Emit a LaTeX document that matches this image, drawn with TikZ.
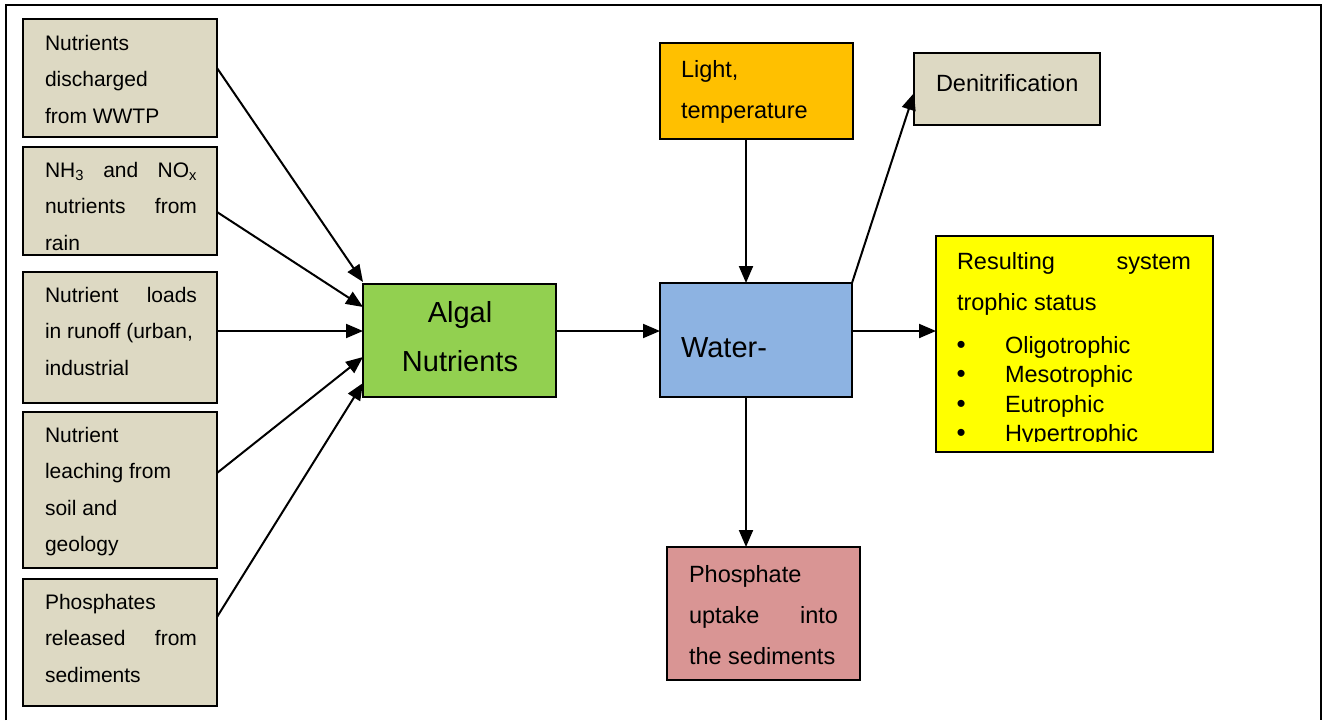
\documentclass[tikz,border=0pt]{standalone}
\usepackage{fontspec}
\setmainfont{Liberation Sans}
\usetikzlibrary{arrows.meta,calc}

\definecolor{sourcetan}{HTML}{DDD9C3}
\definecolor{algalgreen}{HTML}{92D050}
\definecolor{waterblue}{HTML}{8DB3E2}
\definecolor{lightorange}{HTML}{FFC000}
\definecolor{statusyellow}{HTML}{FFFF00}
\definecolor{sedimentpink}{HTML}{D99594}

% font sizes (1pt = 1 px of the final image)
\newcommand{\sizeS}{\fontsize{21}{36.6}\selectfont}
\newcommand{\sizeM}{\fontsize{23.5}{41}\selectfont}
\newcommand{\sizeL}{\fontsize{29}{49}\selectfont}
\newcommand{\lines}[1]{\begin{tabular}[t]{@{}l@{}}#1\end{tabular}}
\newcommand{\clines}[1]{\begin{tabular}[t]{@{}c@{}}#1\end{tabular}}
\newcommand{\bulletitem}{\makebox[48pt][l]{\hspace{-0.5pt}\fontsize{26}{29.5}\selectfont•}}

\tikzset{
  box/.style={draw=black, line width=1.5pt, inner sep=0pt, outer sep=0pt, anchor=north west},
  txt/.style={anchor=base west, inner sep=0pt, outer sep=0pt},
  link/.style={line width=2pt, -{Triangle[length=17pt,width=14pt]}},
}

\begin{document}
\begin{tikzpicture}[x=1pt,y=-1pt]
\useasboundingbox (0,0) rectangle (1324,720);

% page frame
\draw[line width=2pt] (6,720) -- (6,5) -- (1321,5) -- (1321,720);

% source boxes
\node[box, fill=sourcetan, minimum width=194pt, minimum height=118pt] (wwtp)   at (23,19)  {};
\node[box, fill=sourcetan, minimum width=194pt, minimum height=108pt] (rain)   at (23,147) {};
\node[box, fill=sourcetan, minimum width=194pt, minimum height=131pt] (runoff) at (23,272) {};
\node[box, fill=sourcetan, minimum width=194pt, minimum height=156pt] (soil)   at (23,412) {};
\node[box, fill=sourcetan, minimum width=194pt, minimum height=127pt] (sed)    at (23,579) {};

% process boxes
\node[box, fill=algalgreen,   minimum width=193pt, minimum height=113pt] (algal)   at (363,284) {};
\node[box, fill=lightorange,  minimum width=193pt, minimum height=96pt]  (light)   at (660,43)  {};
\node[box, fill=waterblue,    minimum width=192pt, minimum height=114pt] (water)   at (660,283) {};
\node[box, fill=sourcetan,    minimum width=186pt, minimum height=72pt]  (denit)   at (914,53)  {};
\node[box, fill=statusyellow, minimum width=277pt, minimum height=216pt] (trophic) at (936,236) {};
\node[box, fill=sedimentpink, minimum width=193pt, minimum height=133pt] (phos)    at (667,547) {};

% texts of the source boxes
\node[txt, font=\sizeS] (wwtp-t) at (45,50) {\lines{Nutrients\\ discharged\\ from WWTP}};
\node[txt, font=\sizeS] (rain-t) at (45,177) {\lines{\makebox[152pt][s]{NH\textsubscript{3} and NO\textsubscript{x}}\\
  \makebox[152pt][s]{nutrients from}\\ rain}};
\node[txt, font=\sizeS] (runoff-t) at (45,302) {\lines{\makebox[152pt][s]{Nutrient loads}\\ in runoff (urban,\\ industrial}};
\node[txt, font=\sizeS] (soil-t) at (45,442) {\lines{Nutrient\\ leaching from\\ soil and\\ geology}};
\node[txt, font=\sizeS] (sed-t) at (45,609) {\lines{Phosphates\\ \makebox[152pt][s]{released from}\\ sediments}};

% texts of the process boxes
\node[anchor=base, inner sep=0pt, font=\sizeL] (algal-t) at (460,322) {\clines{Algal\\ Nutrients}};
\node[txt, font=\sizeM] (light-t) at (681,77) {\lines{Light,\\ temperature}};
\node[txt, font=\sizeL] (water-t) at (681,357) {Water-};
\node[txt, font=\sizeM] (denit-t) at (936,91) {Denitrification};
\node[txt, font=\sizeM] (phos-t) at (689,582) {\lines{Phosphate\\ \makebox[149pt][s]{uptake into}\\ the sediments}};

\begin{scope}
  \clip (936,236) rectangle (1213,441);
  \node[txt, font=\sizeM] (troph-head) at (957,269) {\lines{\makebox[234pt][s]{Resulting system}\\ trophic status}};
  \node[txt, font=\fontsize{23.5}{29.5}\selectfont] (troph-list) at (957,353)
    {\lines{\bulletitem Oligotrophic\\ \bulletitem Mesotrophic\\
      \bulletitem Eutrophic\\ \bulletitem Hypertrophic}};
\end{scope}

% connectors into the algal nutrients box
\draw[link] ([yshift=10pt]wwtp.east)    -- ([yshift=58.5pt]algal.west);
\draw[link] ([yshift=-11pt]rain.east)   -- ([yshift=33.5pt]algal.west);
\draw[link] ([yshift=6.5pt]runoff.east) -- ([yshift=9.5pt]algal.west);
\draw[link] ([yshift=17pt]soil.east)    -- ([yshift=-16.5pt]algal.west);
\draw[link] ([yshift=25.5pt]sed.east)   -- ([yshift=-42.5pt]algal.west);

% connectors around the water box
\draw[link] ([yshift=9.5pt]algal.east) -- ([yshift=9pt]water.west);
\draw[link] ([xshift=-10.5pt]light.south) -- ([xshift=-10pt]water.north);
\draw[link] (water.north east) -- ([yshift=-4pt]denit.west);
\draw[link] ([yshift=9pt]water.east) -- ([yshift=13pt]trophic.west);
\draw[link] ([xshift=-10pt]water.south) -- ([xshift=-10pt]water.south |- phos.north);

\end{tikzpicture}
\end{document}
